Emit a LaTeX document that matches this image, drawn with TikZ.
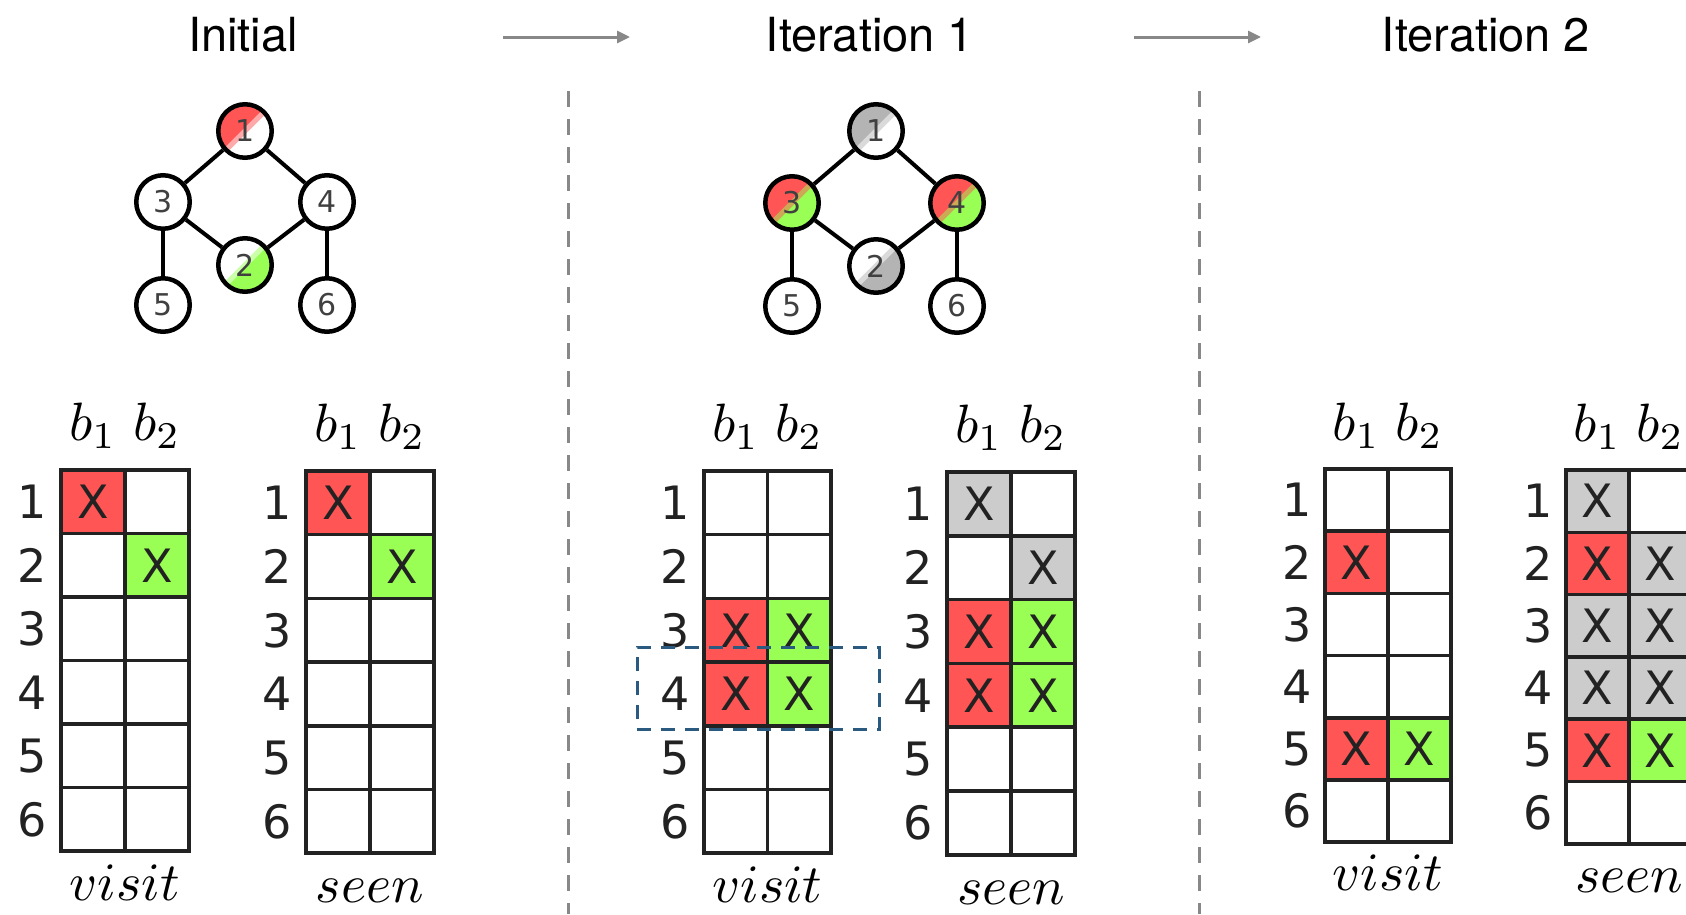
\documentclass[tikz,border=0pt]{standalone}
\usepackage{fontspec}
\newfontfamily\titlefont{TeX Gyre Heros}
\newfontfamily\dvfont{DejaVu Sans}
\usetikzlibrary{arrows.meta}
\definecolor{cred}{HTML}{FF5555}
\definecolor{cgreen}{HTML}{99FF55}
\definecolor{cgray}{HTML}{CCCCCC}
\definecolor{ngray}{HTML}{B4B4B4}
\definecolor{boxblue}{HTML}{2A5A80}
\definecolor{sepgray}{HTML}{888888}
\definecolor{ink}{HTML}{222222}
\tikzset{
  title/.style={font=\titlefont\fontsize{47}{52}\selectfont, anchor=base, inner sep=0pt},
  flow/.style={draw=sepgray, line width=3pt, -{Triangle[length=13pt,width=12pt]}},
  sepline/.style={draw=sepgray, line width=3pt, dash pattern=on 16pt off 12pt},
  selbox/.style={draw=boxblue, line width=3pt, dash pattern=on 14pt off 10pt},
  gn/.style 2 args={circle, draw=black, line width=4.5pt, minimum size=53.5pt, inner sep=0pt,
    font=\dvfont\fontsize{30}{32}\selectfont, text=black!75,
    path picture={\fill[#2] (path picture bounding box.south west) rectangle (path picture bounding box.north east);
      \fill[#1] (path picture bounding box.south west) -- (path picture bounding box.north west) -- (path picture bounding box.north east) -- cycle;
      \draw[#1!50!#2, line width=5pt] (path picture bounding box.south west) -- (path picture bounding box.north east);}},
  gedge/.style={draw=black, line width=4pt},
  gridline/.style={draw=ink, line width=3.5pt},
  xmark/.style={font=\dvfont\fontsize{46}{50}\selectfont, text=ink, inner sep=0pt},
  rowlab/.style={font=\dvfont\fontsize{46}{50}\selectfont, text=ink, inner sep=0pt},
  blab/.style={anchor=base, inner sep=0pt},
  namelab/.style={anchor=base, inner sep=0pt},
}
\newcommand\mbig[1]{\scalebox{5.4}{$#1$}}
\newcommand\bittable[7]{%
\begin{scope}[shift={(#2,#3)}, x=#4pt, y=-#5pt]
  \foreach \c/\r/\col in {#7}{\fill[\col] (\c-1,\r-1) rectangle (\c,\r); \node[xmark] (#1-x\c\r) at (\c-0.5,\r-0.5) {X};}
  \draw[gridline] (0,0) rectangle (2,6);
  \draw[gridline] (1,0) -- (1,6);
  \foreach \r in {1,...,5}{\draw[gridline] (0,\r) -- (2,\r);}
  \foreach \r in {1,...,6}{\node[rowlab] (#1-r\r) at (-0.45,\r-0.5) {\r};}
  \node[blab] (#1-b1) at (0.5,-0.46) {\mbig{b_1}};
  \node[blab] (#1-b2) at (1.5,-0.46) {\mbig{b_2}};
  \node[namelab] (#1-name) at (1,6.78) {\mbig{#6}};
\end{scope}}
\newcommand\graphedges[1]{%
  \draw[gedge] (#1-1) -- (#1-3);
  \draw[gedge] (#1-1) -- (#1-4);
  \draw[gedge] (#1-3) -- (#1-2);
  \draw[gedge] (#1-4) -- (#1-2);
  \draw[gedge] (#1-3) -- (#1-5);
  \draw[gedge] (#1-4) -- (#1-6);
}
\begin{document}
\begin{tikzpicture}[x=1pt, y=-1pt]
\useasboundingbox (0,0) rectangle (1686,914);
\clip (0,0) rectangle (1686,914);
\fill[white] (0,0) rectangle (1686,914);

% titles
\node[title] (tInit) at (243,51) {Initial};
\node[title] (tIt1) at (870,51) {Iteration 1};
\node[title] (tIt2) at (1486,51) {Iteration 2};
\coordinate (a1s) at (503,37); \coordinate (a1e) at (630,37);
\coordinate (a2s) at (1134,37); \coordinate (a2e) at (1261,37);
\draw[flow] (a1s) -- (a1e);
\draw[flow] (a2s) -- (a2e);

% separators
\coordinate (s1t) at (568,91); \coordinate (s1b) at (568,914);
\coordinate (s2t) at (1199,91); \coordinate (s2b) at (1199,914);
\draw[sepline] (s1t) -- (s1b);
\draw[sepline] (s2t) -- (s2b);

% graph initial
\node[gn={cred}{white}] (ga-1) at (245,131) {1};
\node[gn={white}{cgreen}] (ga-2) at (245,265) {2};
\node[gn={white}{white}] (ga-3) at (163,202) {3};
\node[gn={white}{white}] (ga-4) at (327,202) {4};
\node[gn={white}{white}] (ga-5) at (163,305) {5};
\node[gn={white}{white}] (ga-6) at (327,305) {6};
\graphedges{ga}

% graph iteration 1
\node[gn={ngray}{white}] (gb-1) at (876,131) {1};
\node[gn={white}{ngray}] (gb-2) at (876,266) {2};
\node[gn={cred}{cgreen}] (gb-3) at (792,203) {3};
\node[gn={cred}{cgreen}] (gb-4) at (957,203) {4};
\node[gn={white}{white}] (gb-5) at (792,306) {5};
\node[gn={white}{white}] (gb-6) at (957,306) {6};
\graphedges{gb}

% tables
\bittable{iv}{61}{470}{64}{63.5}{visit}{1/1/cred, 2/2/cgreen}
\bittable{is}{306}{471}{64}{63.7}{seen}{1/1/cred, 2/2/cgreen}
\bittable{av}{704}{471}{63.5}{63.7}{visit}{1/3/cred, 2/3/cgreen, 1/4/cred, 2/4/cgreen}
\bittable{as}{947}{472}{64}{63.8}{seen}{1/1/cgray, 2/2/cgray, 1/3/cred, 2/3/cgreen, 1/4/cred, 2/4/cgreen}
\bittable{bv}{1325}{469}{63}{62.2}{visit}{1/2/cred, 1/5/cred, 2/5/cgreen}
\bittable{bs}{1566}{470}{63}{62.3}{seen}{1/1/cgray, 1/2/cred, 2/2/cgray, 1/3/cgray, 2/3/cgray, 1/4/cgray, 2/4/cgray, 1/5/cred, 2/5/cgreen}

% selection box
\node[selbox, minimum width=242pt, minimum height=82pt, inner sep=0pt] (sel) at (758,688) {};
\end{tikzpicture}
\end{document}
